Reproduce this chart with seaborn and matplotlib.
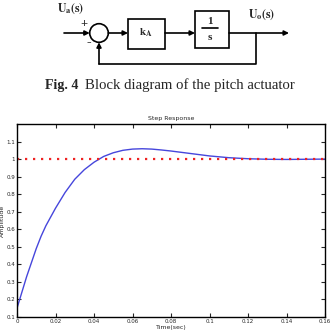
import numpy as np
import pandas as pd
import seaborn as sns
import matplotlib.pyplot as plt
from matplotlib.patches import Rectangle, Circle

# Step response data
time_s = [0, 0.0025, 0.005, 0.0075, 0.01, 0.0125, 0.015, 0.0175, 0.02, 0.025, 0.03, 0.035,
          0.04, 0.045, 0.05, 0.055, 0.06, 0.065, 0.07, 0.075, 0.08, 0.09, 0.10, 0.11,
          0.12, 0.13, 0.14, 0.15, 0.16]
amplitude = [0.15, 0.24, 0.33, 0.41, 0.49, 0.56, 0.62, 0.67, 0.72, 0.81, 0.885, 0.94,
             0.982, 1.015, 1.036, 1.05, 1.057, 1.059, 1.057, 1.052, 1.046, 1.032, 1.018, 1.008,
             1.002, 0.999, 0.998, 0.999, 1.0]
reference = 1.0
x_ticks = [0, 0.02, 0.04, 0.06, 0.08, 0.1, 0.12, 0.14, 0.16]
y_ticks = [0.1, 0.2, 0.3, 0.4, 0.5, 0.6, 0.7, 0.8, 0.9, 1, 1.1]

df = pd.DataFrame({'t': time_s, 'amp': amplitude})

sns.set_style('white')
plt.rcParams['font.family'] = ['DejaVu Sans']
plt.rcParams['mathtext.fontset'] = 'stix'

fig = plt.figure(figsize=(3.31, 3.33), dpi=100)

# Block diagram drawn in pixel coordinates
dg = fig.add_axes([0, 0, 1, 1], zorder=0)
dg.set_xlim(0, 331)
dg.set_ylim(333, 0)
dg.axis('off')
serif = ['Liberation Serif', 'DejaVu Serif']
lw = 1.2

dg.add_patch(Circle((99, 33), 9.3, fill=False, lw=lw, ec='black'))
dg.add_patch(Rectangle((128, 19), 37, 30, fill=False, lw=lw, ec='black'))
dg.add_patch(Rectangle((195, 11), 34, 37, fill=False, lw=lw, ec='black'))


def arrow(x0, y0, x1, y1):
    dg.annotate('', xy=(x1, y1), xytext=(x0, y0),
                arrowprops=dict(arrowstyle='-|>', lw=lw, color='black',
                                mutation_scale=7, shrinkA=0, shrinkB=0))


arrow(64, 33, 89.7, 33)
arrow(108.3, 33, 128, 33)
arrow(165, 33, 195, 33)
arrow(229, 33, 289, 33)
dg.plot([256, 256, 99], [33, 64, 64], color='black', lw=lw)
arrow(99, 64, 99, 42.3)

dg.text(57, 9, r'$\mathbf{U_a(s)}$', fontsize=8.5, va='center', ha='left')
dg.text(248, 15, r'$\mathbf{U_o(s)}$', fontsize=8.5, va='center', ha='left')
dg.text(84, 24, '+', fontsize=9, ha='center', va='center', family=serif, fontweight='bold')
dg.text(89, 43, '-', fontsize=10, ha='center', va='center', family=serif, fontweight='bold')
dg.text(146, 33, r'$\mathbf{k_A}$', fontsize=8, ha='center', va='center')
dg.text(210, 22, '1', fontsize=8, ha='center', va='center', family=serif, fontweight='bold')
dg.plot([202, 218], [28, 28], color='black', lw=1.2)
dg.text(210, 38, 's', fontsize=8, ha='center', va='center', family=serif, fontweight='bold')
dg.text(45, 85, 'Fig. 4', fontsize=10, ha='left', va='center', family=serif, fontweight='bold')
dg.text(85, 85, 'Block diagram of the pitch actuator', fontsize=10.6, ha='left', va='center',
        family=serif)

# Step response plot
ax = fig.add_axes([17 / 331, 16 / 333, 308 / 331, 193 / 333], zorder=1)
sns.lineplot(data=df, x='t', y='amp', ax=ax, color='#4646dc', lw=1.0)
ax.axhline(reference, color='#ee2222', lw=1.6, ls=(0, (1, 2.6)))
ax.set_xlim(0, 0.16)
ax.set_ylim(0.1, 1.2)
ax.set_xticks(x_ticks)
ax.set_xticklabels(['0', '0.02', '0.04', '0.06', '0.08', '0.1', '0.12', '0.14', '0.16'])
ax.set_yticks(y_ticks)
ax.set_yticklabels(['0.1', '0.2', '0.3', '0.4', '0.5', '0.6', '0.7', '0.8', '0.9', '1', '1.1'])
ax.tick_params(direction='in', length=3, width=0.8, labelsize=4, pad=1.5,
               top=True, right=True, bottom=True, left=True)
for s in ax.spines.values():
    s.set_linewidth(1.0)
    s.set_color('black')
ax.set_title('Step Response', fontsize=4.5, pad=3)
ax.set_xlabel('Time(sec)', fontsize=4.5, labelpad=1)
ax.set_ylabel('Amplitude', fontsize=4.5, labelpad=1)

fig.savefig('out.png', dpi=100)
